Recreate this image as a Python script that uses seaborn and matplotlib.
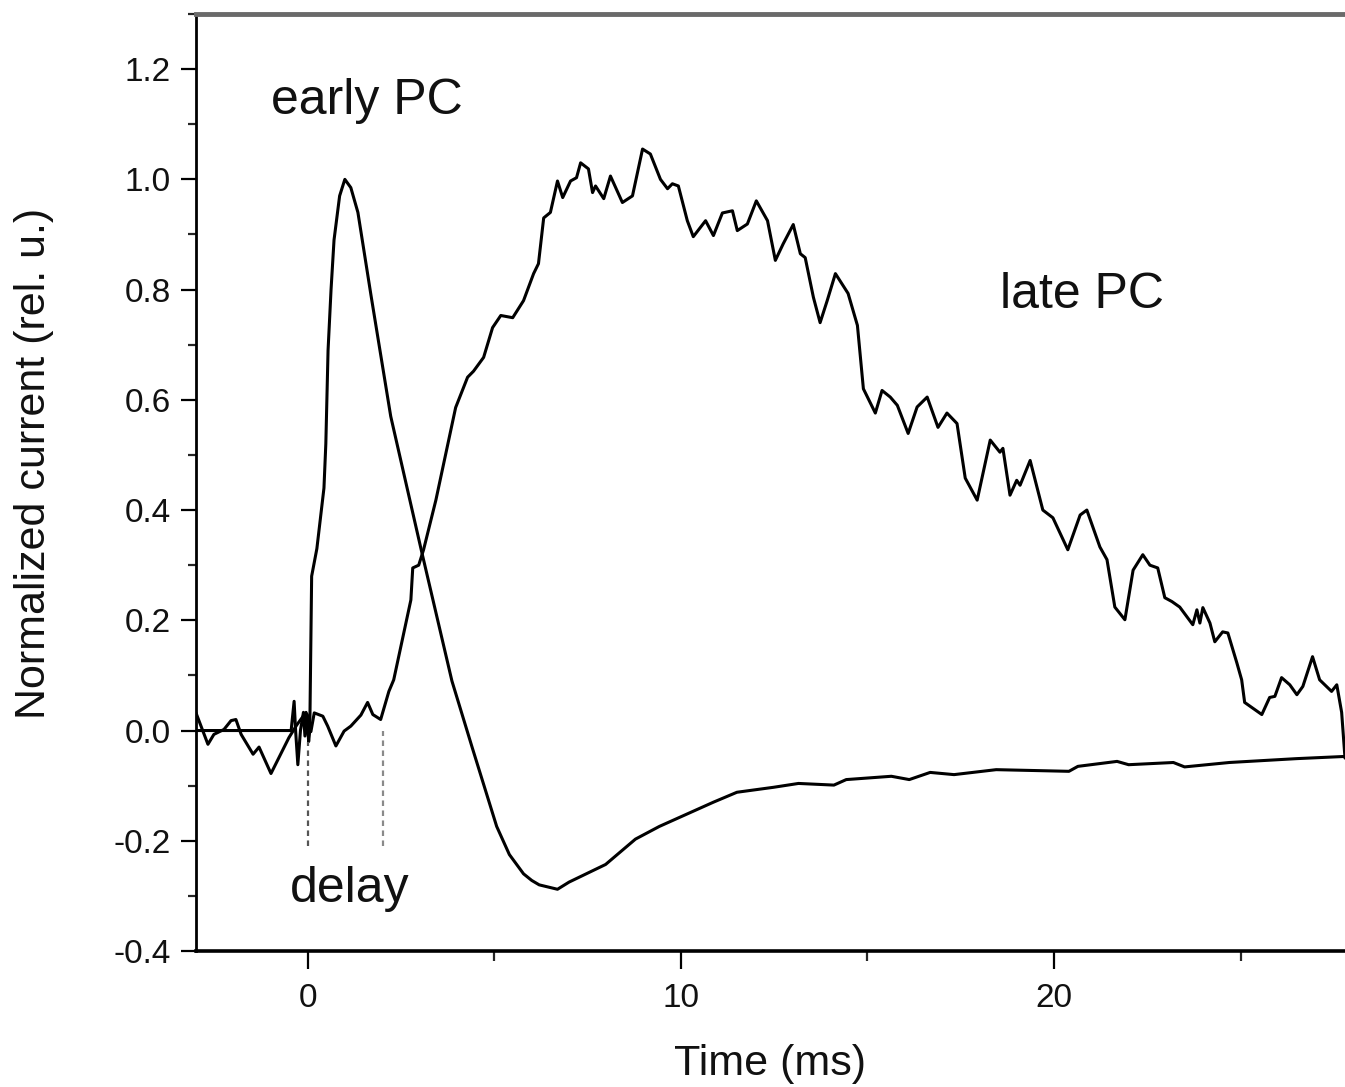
import numpy as np
import pandas as pd
import matplotlib
matplotlib.use("Agg")
import matplotlib.pyplot as plt
from matplotlib.ticker import MultipleLocator
import seaborn as sns

# ---------------- data ----------------
early_t = [-3.0, -0.45, -0.37, -0.33, -0.27, -0.2, -0.12, -0.08, -0.03, 0.02, 0.05,
           0.1, 0.24, 0.43, 0.48, 0.54, 0.62, 0.70, 0.85, 0.99, 1.15, 1.34, 1.69,
           2.22, 3.03, 3.86, 4.4, 5.06, 5.4, 5.78, 6.0, 6.2, 6.69, 7.0, 7.98, 8.78, 9.42,
           10.87, 11.5, 12.48, 13.15, 14.1, 14.43, 15.64, 16.12, 16.68, 17.32, 18.45,
           20.4, 20.64, 21.69, 22.0, 23.2, 23.5, 24.7, 26.5, 27.8]
early_i = [0.0, 0.0, 0.053, 0.0, -0.062, 0.0, 0.033, -0.01, 0.03, -0.02, 0.0,
           0.28, 0.33, 0.44, 0.52, 0.69, 0.80, 0.89, 0.97, 1.0, 0.985, 0.94, 0.79,
           0.57, 0.33, 0.09, -0.03, -0.174, -0.225, -0.26, -0.272, -0.28, -0.288, -0.275,
           -0.243, -0.197, -0.174, -0.13, -0.112, -0.103, -0.096, -0.099, -0.089, -0.083,
           -0.089, -0.076, -0.08, -0.071, -0.074, -0.065, -0.056, -0.062, -0.058, -0.066,
           -0.058, -0.051, -0.047]

late_t = [-3.0, -2.86, -2.68, -2.52, -2.25, -2.06, -1.93, -1.79, -1.47, -1.31, -0.99,
          -0.51, -0.3, -0.05, 0.08, 0.17, 0.4, 0.53, 0.75, 0.97, 1.15, 1.42, 1.6,
          1.74, 1.95, 2.17, 2.3, 2.57, 2.76, 2.81, 2.97, 3.1, 3.43, 3.96, 4.28, 4.44,
          4.71, 4.95, 5.17, 5.49, 5.78, 6.05, 6.18, 6.32, 6.5, 6.69, 6.83, 7.04, 7.2,
          7.31, 7.52, 7.63, 7.71, 7.93, 8.11, 8.43, 8.7, 8.97, 9.18, 9.45, 9.64, 9.77,
          9.93, 10.17, 10.33, 10.66, 10.87, 11.11, 11.38, 11.51, 11.78, 12.02, 12.32,
          12.53, 12.74, 13.01, 13.2, 13.33, 13.55, 13.73, 13.92, 14.14, 14.48, 14.73,
          14.89, 15.21, 15.39, 15.61, 15.8, 16.09, 16.33, 16.6, 16.89, 17.13, 17.4,
          17.62, 17.94, 18.29, 18.55, 18.63, 18.82, 19.0, 19.09, 19.36, 19.7, 19.97,
          20.37, 20.7, 20.88, 21.23, 21.42, 21.63, 21.9, 22.12, 22.38, 22.57, 22.78,
          22.97, 23.16, 23.37, 23.72, 23.83, 23.91, 23.99, 24.18, 24.31, 24.52, 24.66,
          24.9, 25.03, 25.11, 25.57, 25.78, 25.92, 26.1, 26.32, 26.51, 26.67, 26.93,
          27.12, 27.44, 27.58, 27.71, 27.8]
late_i = [0.032, 0.007, -0.025, -0.007, 0.002, 0.018, 0.02, -0.007, -0.043, -0.03, -0.078,
          -0.013, 0.01, 0.033, -0.002, 0.032, 0.026, 0.008, -0.028, -0.001, 0.008, 0.028, 0.051,
          0.029, 0.02, 0.071, 0.092, 0.177, 0.237, 0.295, 0.30, 0.328, 0.418, 0.586, 0.641, 0.652,
          0.677, 0.731, 0.753, 0.749, 0.78, 0.829, 0.847, 0.93, 0.94, 0.997, 0.967, 0.997, 1.003,
          1.03, 1.019, 0.976, 0.988, 0.965, 1.006, 0.958, 0.97, 1.055, 1.046, 1.0, 0.983, 0.992,
          0.988, 0.925, 0.896, 0.925, 0.898, 0.939, 0.943, 0.907, 0.919, 0.961, 0.925,
          0.853, 0.883, 0.918, 0.865, 0.858, 0.786, 0.74, 0.78, 0.829, 0.793, 0.735,
          0.62, 0.576, 0.617, 0.605, 0.59, 0.539, 0.587, 0.605, 0.55, 0.576, 0.557,
          0.458, 0.418, 0.527, 0.505, 0.512, 0.427, 0.454, 0.445, 0.49, 0.4, 0.386,
          0.328, 0.391, 0.4, 0.333, 0.31, 0.224, 0.201, 0.291, 0.319, 0.3, 0.295,
          0.241, 0.234, 0.224, 0.192, 0.219, 0.195, 0.223, 0.195, 0.161, 0.179, 0.177,
          0.123, 0.092, 0.051, 0.029, 0.06, 0.062, 0.096, 0.083, 0.065, 0.08, 0.134,
          0.092, 0.071, 0.083, 0.033, -0.05]

delay_marks = [0.0, 2.0]          # ms, dashed markers
delay_top = [-0.02, 0.0]
delay_bottom = -0.21

x_ticks = [0, 10, 20]
y_ticks = [-0.4, -0.2, 0.0, 0.2, 0.4, 0.6, 0.8, 1.0, 1.2]

labels = {"early": ("early PC", 1.58, 1.119),
          "late": ("late PC", 20.75, 0.766),
          "delay": ("delay", 1.12, -0.311)}

# ---------------- plotting ----------------
sns.set_style("ticks")
plt.rcParams["font.family"] = ["Liberation Sans", "DejaVu Sans"]

fig = plt.figure(figsize=(13.45, 10.87), dpi=100)
ax = fig.add_axes([196 / 1345, 1 - 951 / 1087, (1345 - 196) / 1345, (951 - 14) / 1087])

early_df = pd.DataFrame({"t": early_t, "i": early_i})
late_df = pd.DataFrame({"t": late_t, "i": late_i})
sns.lineplot(data=early_df, x="t", y="i", ax=ax, color="black", lw=2.2,
             sort=False, estimator=None)
sns.lineplot(data=late_df, x="t", y="i", ax=ax, color="black", lw=2.2,
             sort=False, estimator=None)

ax.vlines(delay_marks, delay_bottom, delay_top, colors=["#555555", "#8a8a8a"],
          linestyles=(0, (2.5, 2.0)), lw=1.6)

for txt, x, y in labels.values():
    ax.text(x, y, txt, fontsize=36, ha="center", va="baseline", color="#111111")

ax.set_xlim(-3.0, 27.8)
ax.set_ylim(-0.4, 1.3)
ax.set_xticks(x_ticks)
ax.set_yticks(y_ticks)
ax.set_yticklabels([f"{v:.1f}" for v in y_ticks])
ax.xaxis.set_minor_locator(MultipleLocator(5))
ax.yaxis.set_minor_locator(MultipleLocator(0.1))

ax.tick_params(axis="both", which="major", labelsize=24, width=1.6, color="black",
               labelcolor="#111111")
ax.tick_params(axis="x", which="major", length=13, pad=10)
ax.tick_params(axis="y", which="major", length=11, pad=7)
ax.tick_params(axis="x", which="minor", length=7.5, width=1.6)
ax.tick_params(axis="y", which="minor", length=6, width=1.6)

ax.set_xlabel("Time (ms)", fontsize=31, labelpad=22, color="#111111")
ax.set_ylabel("Normalized current (rel. u.)", fontsize=31, color="#111111")
ax.yaxis.set_label_coords((54 - 196) / 1149, (951 - 463) / 937)

ax.spines["right"].set_visible(False)
ax.spines["left"].set_linewidth(2.0)
ax.spines["bottom"].set_linewidth(2.6)
ax.spines["top"].set_linewidth(3.5)
ax.spines["top"].set_color("#6a6a6a")
ax.spines["left"].set_color("black")
ax.spines["bottom"].set_color("black")

fig.savefig("out.png", dpi=100)
